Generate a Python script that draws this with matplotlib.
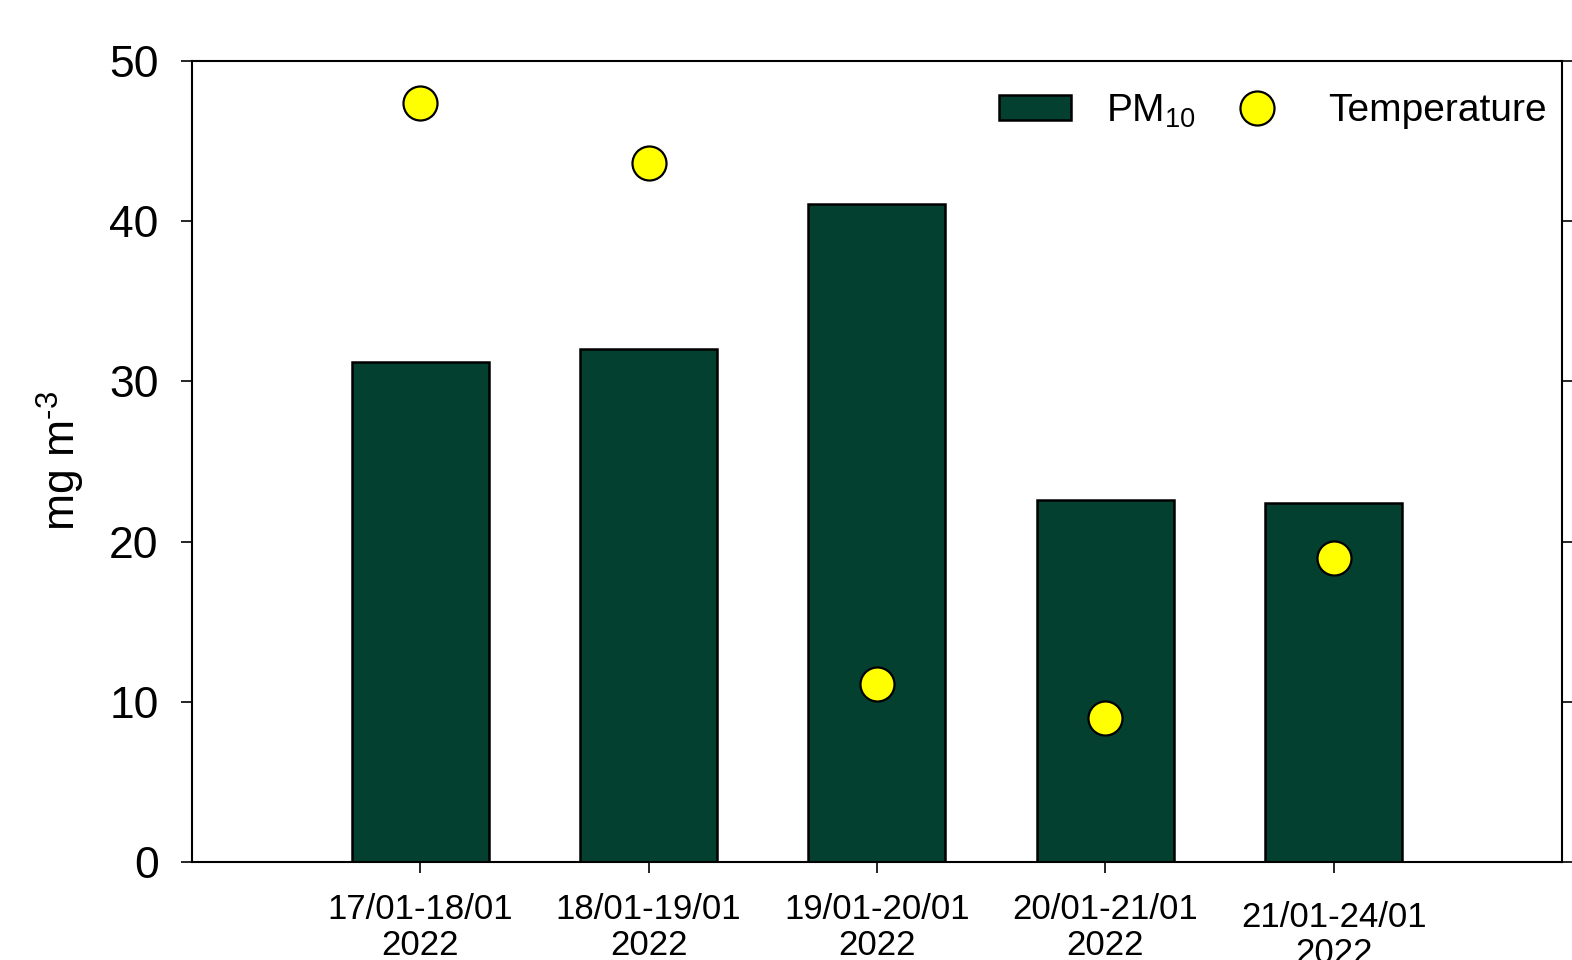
import matplotlib.pyplot as plt
import numpy as np

plt.rcParams['font.family'] = ['Liberation Sans', 'DejaVu Sans']
plt.rcParams['mathtext.fontset'] = 'custom'
plt.rcParams['mathtext.rm'] = 'Liberation Sans'

# data
periods = ['17/01-18/01\n2022', '18/01-19/01\n2022', '19/01-20/01\n2022',
           '20/01-21/01\n2022', '21/01-24/01\n2022']
pm10 = [31.2, 32.0, 41.1, 22.6, 22.4]
temperature = [47.4, 43.6, 11.1, 9.0, 19.0]

fig = plt.figure(figsize=(15.72, 9.6), dpi=100)
ax = fig.add_axes([0.1221, 0.1021, 0.8715, 0.8344])

x = np.arange(len(periods))
bars = ax.bar(x, pm10, width=0.6, color='#03402f', edgecolor='black', linewidth=1.8,
              zorder=2)
pts, = ax.plot(x, temperature, 'o', ms=24.5, markerfacecolor='#ffff00',
               markeredgecolor='black', markeredgewidth=1.6, zorder=3)

ax.set_xlim(-1, 5)
ax.set_ylim(0, 50)
ax.set_yticks([0, 10, 20, 30, 40, 50])
ax.set_xticks(x)
ax.set_xticklabels(periods, fontsize=25, linespacing=1.12)
ax.tick_params(axis='y', labelsize=32, length=8, width=1.2, direction='out',
               right=True, pad=16)
ax.tick_params(axis='x', length=8, width=1.2, direction='out', pad=14)
# last label sits a little lower in the original
ax.get_xticklabels()[-1].set_y(-0.01)
for s in ax.spines.values():
    s.set_linewidth(1.5)

ax.set_ylabel('mg m$^{\\mathregular{\u2010}3}$', fontsize=32, labelpad=16)

ax.legend([bars, pts], ['PM$_{\\mathregular{10}}$', 'Temperature'],
          loc='center right', bbox_to_anchor=(1.0, 0.9376), ncol=2, frameon=False,
          fontsize=28, handlelength=1.85, handleheight=0.62, columnspacing=0.64,
          handletextpad=0.9, borderaxespad=0)

fig.savefig('out.png', dpi=100)
